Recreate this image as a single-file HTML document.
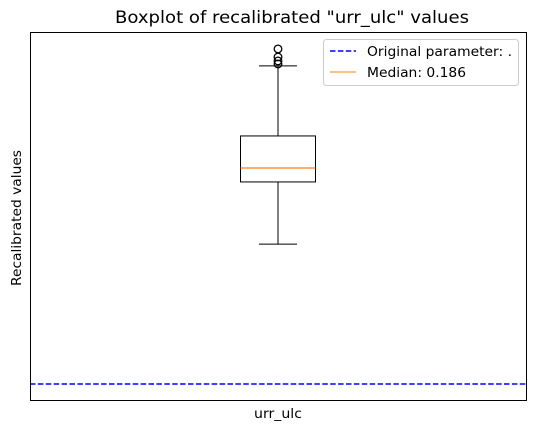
<!DOCTYPE html>
<html><head><meta charset="utf-8"><style>
body{margin:0;background:#fff;}
svg text{font-family:"DejaVu Sans","Liberation Sans",sans-serif;}
</style></head><body>
<svg width="535" height="431" viewBox="0 0 535 431">
<rect x="0" y="0" width="535" height="431" fill="#fff"/>
<g id="marks"></g>
<rect x="30.5" y="32.5" width="496" height="368" fill="none" stroke="#000" stroke-width="1"/>
<text x="115" y="23" font-size="16.5" textLength="354" lengthAdjust="spacingAndGlyphs">Boxplot of recalibrated "urr_ulc" values</text>
<text x="254" y="418" font-size="13" textLength="48" lengthAdjust="spacingAndGlyphs">urr_ulc</text>
<text transform="translate(21,286) rotate(-90)" font-size="13" textLength="136" lengthAdjust="spacingAndGlyphs">Recalibrated values</text>
<g>
<rect x="323.5" y="39.5" width="195" height="46" rx="3" fill="#fff" fill-opacity="0.8" stroke="#ccc"/>
<line x1="330" y1="51" x2="356" y2="51" stroke="#0000ff" stroke-width="1.5" stroke-dasharray="5.5,2.4"/>
<text x="367" y="56" font-size="13" textLength="145" lengthAdjust="spacingAndGlyphs">Original parameter: .</text>
<line x1="330" y1="72" x2="356" y2="72" stroke="#ff7f0e" stroke-width="1"/>
<text x="367" y="77" font-size="13" textLength="99" lengthAdjust="spacingAndGlyphs">Median: 0.186</text>
</g>
</svg>
<script>
const stats=[0.1205,0.174,0.186,0.2136,0.2739]; // whisker low, q1, median, q3, whisker high
const outliers=[0.2885,0.2816,0.2782,0.2756];
const originalValue=[0.0];
const yDomain=[-0.0146,0.3031];
const NS="http://www.w3.org/2000/svg";
const plotTop=32,plotBottom=401;
function yScale(v){return plotBottom-(v-yDomain[0])/(yDomain[1]-yDomain[0])*(plotBottom-plotTop);}
const g=document.getElementById('marks');
function mk(t,a,name){const e=document.createElementNS(NS,t);for(const k in a)e.setAttribute(k,a[k]);


g.appendChild(e);return e;}
const cx=278,bw=75,cw=38;
mk('line',{x1:cx,x2:cx,y1:yScale(stats[0]),y2:yScale(stats[1]),stroke:'#000'},'lower-whisker');
mk('line',{x1:cx,x2:cx,y1:yScale(stats[3]),y2:yScale(stats[4]),stroke:'#000'},'upper-whisker');
mk('line',{x1:cx-cw/2,x2:cx+cw/2,y1:yScale(stats[0]),y2:yScale(stats[0]),stroke:'#000'},'lower-cap');
mk('line',{x1:cx-cw/2,x2:cx+cw/2,y1:yScale(stats[4]),y2:yScale(stats[4]),stroke:'#000'},'upper-cap');
mk('rect',{x:cx-bw/2,y:yScale(stats[3]),width:bw,height:yScale(stats[1])-yScale(stats[3]),fill:'none',stroke:'#000'},'box');
mk('line',{x1:cx-bw/2,x2:cx+bw/2,y1:yScale(stats[2]),y2:yScale(stats[2]),stroke:'#ff7f0e','stroke-width':1.3},'median-line');
outliers.forEach(v=>mk('circle',{cx:cx,cy:yScale(v),r:3.8,fill:'none',stroke:'#000','stroke-width':1.3},'outlier'));
originalValue.forEach(v=>mk('line',{x1:30,x2:527,y1:yScale(v),y2:yScale(v),stroke:'#0000ff','stroke-width':1.5,'stroke-dasharray':'5.5,2.4'},'original-parameter-line'));
</script>
</body></html>
